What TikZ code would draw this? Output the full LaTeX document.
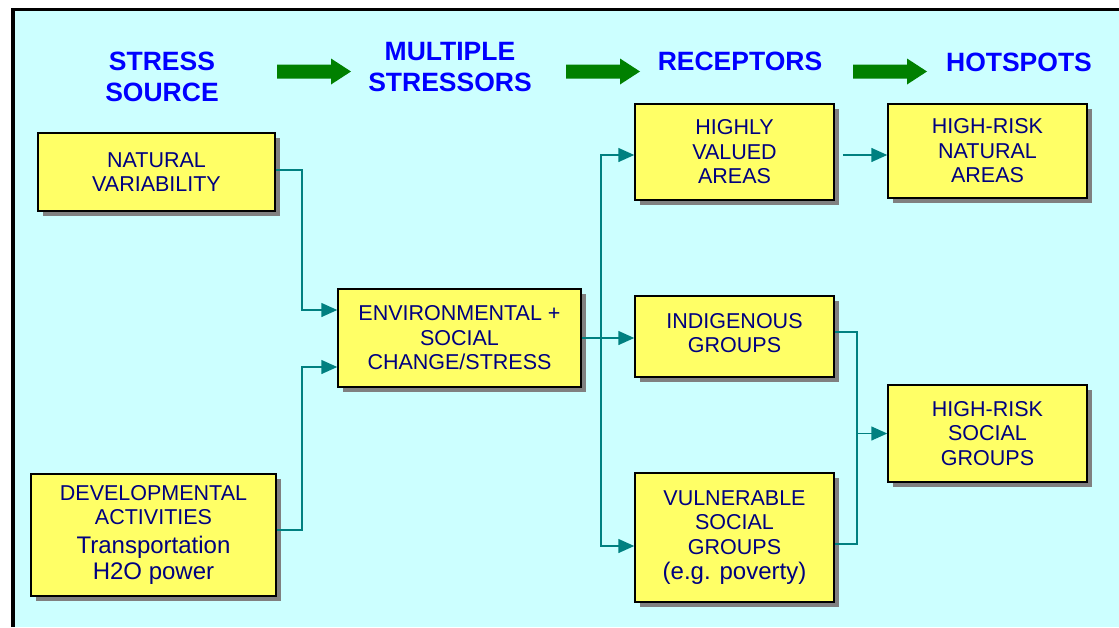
\documentclass[tikz,border=0pt]{standalone}
\usepackage{fontspec}
\setmainfont{Liberation Sans}
\usetikzlibrary{shadows,arrows.meta}
\definecolor{bgcyan}{HTML}{CCFFFF}
\definecolor{boxyellow}{HTML}{FFFF66}
\definecolor{navytext}{HTML}{000080}
\definecolor{headblue}{HTML}{0000FF}
\definecolor{arrowgreen}{HTML}{008000}
\definecolor{conncolor}{HTML}{008080}
\definecolor{shadowgray}{HTML}{808080}
\newcommand\bigtxt{\fontsize{24}{27}\selectfont}
\begin{document}
\begin{tikzpicture}[x=1pt,y=-1pt,
 box/.style={draw=black, line width=1.5pt, fill=boxyellow, text=navytext, align=center, inner sep=0pt,
   font=\fontsize{21.5}{24.5}\selectfont,
   drop shadow={shadow xshift=5pt, shadow yshift=-5pt, fill=shadowgray, opacity=1}},
 head/.style={text=headblue, align=center, font=\bfseries\fontsize{26.5}{31}\selectfont, inner sep=0pt},
 conn/.style={draw=conncolor, line width=1.5pt, -{Triangle[length=16pt,width=14pt]}},
 wire/.style={draw=conncolor, line width=1.5pt},
 garrow/.pic={\fill[arrowgreen] (0,-7) -- (54,-7) -- (54,-13) -- (74,0) -- (54,13) -- (54,7) -- (0,7) -- cycle;}
]
\useasboundingbox (0,0) rectangle (1119,627);
\fill[bgcyan] (13,9.5) rectangle (1119,627);
\draw[line width=3.5pt] (13,627) -- (13,9.5) -- (1119,9.5);

% headings
\node[head] (h1) at (162,76.5) {STRESS\\SOURCE};
\node[head] (h2) at (450,67.5) {MULTIPLE\\STRESSORS};
\node[head] (h3) at (740,61) {RECEPTORS};
\node[head] (h4) at (1019,62) {HOTSPOTS};
\pic at (277,71.5) {garrow};
\pic at (566,71.5) {garrow};
\pic at (853,71.5) {garrow};

% boxes
\node[box, minimum width=237pt, minimum height=78pt] (nat) at (156.5,172) {NATURAL\\VARIABILITY};
\node[box, minimum width=245pt, minimum height=122pt] (dev) at (153.5,535)
  {DEVELOPMENTAL\\ACTIVITIES\\[4pt]\bigtxt Transportation\\[2pt]\bigtxt H2O power};
\node[box, minimum width=243pt, minimum height=98pt] (env) at (459.5,338) {ENVIRONMENTAL +\\SOCIAL\\CHANGE/STRESS};
\node[box, minimum width=199pt, minimum height=96pt] (hva) at (734.5,152) {HIGHLY\\VALUED\\AREAS};
\node[box, minimum width=199pt, minimum height=94pt] (hrn) at (987.5,151) {HIGH-RISK\\NATURAL\\AREAS};
\node[box, minimum width=199pt, minimum height=81pt] (ind) at (734.5,336.5) {INDIGENOUS\\GROUPS\\[-17pt]~};
\node[box, minimum width=199pt, minimum height=129pt] (vul) at (734.5,537.5)
  {VULNERABLE\\SOCIAL\\GROUPS\\[1pt]\bigtxt (e.g. poverty)};
\node[box, minimum width=199pt, minimum height=97pt] (hrs) at (987.5,433.5) {HIGH-RISK\\SOCIAL\\GROUPS};

% connectors
\draw[conn] ([yshift=2pt]nat.east) -- (302,170) |- ([yshift=28pt]env.west);
\draw[conn] ([yshift=5pt]dev.east) -- (302,530) |- ([yshift=-29pt]env.west);
\draw[conn] (env.east) -- (env.east -| ind.west);
\coordinate (sp) at (601,338);
\draw[conn] (sp) |- ([yshift=-3pt]hva.west);
\draw[conn] (sp) |- ([yshift=-8.5pt]vul.west);
\draw[conn] ([xshift=8pt,yshift=-3pt]hva.east) -- ([yshift=-4pt]hrn.west);
\coordinate (j) at (857,433.5);
\draw[wire] ([yshift=4.5pt]ind.east) -| (j) |- ([yshift=-6.5pt]vul.east);
\draw[conn] (j) -- (hrs.west);
\end{tikzpicture}
\end{document}
